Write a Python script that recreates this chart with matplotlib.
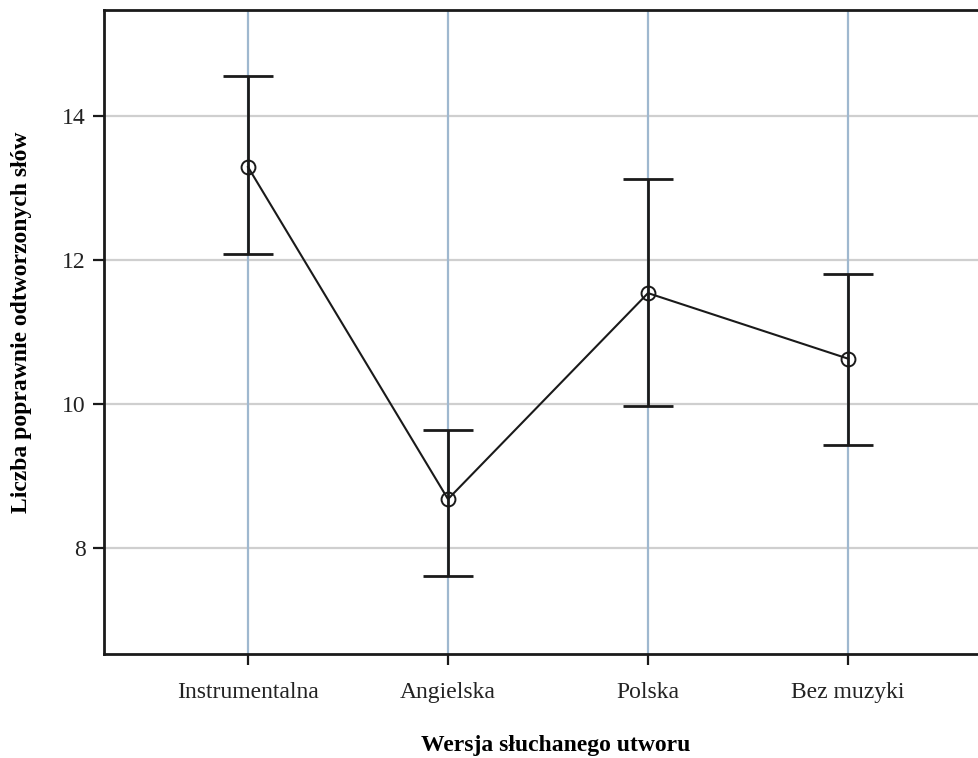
import matplotlib
matplotlib.use("Agg")
import matplotlib.pyplot as plt

categories = ["Instrumentalna", "Angielska", "Polska", "Bez muzyki"]
means = [13.29, 8.68, 11.54, 10.63]
upper = [14.56, 9.64, 13.13, 11.81]
lower = [12.08, 7.61, 9.97, 9.43]
yticks = [8, 10, 12, 14]

plt.rcParams['font.family'] = ['Liberation Serif', 'DejaVu Serif']

fig = plt.figure(figsize=(9.79, 7.58), dpi=100)
ax = fig.add_axes([104/979, 1-654/758, 1-104/979, 644/758])

x = list(range(len(categories)))
yerr = [[m - l for m, l in zip(means, lower)], [u - m for u, m in zip(upper, means)]]

for xi in x:
    ax.axvline(xi, color='#9fb8cf', lw=1.6, zorder=1)
for yt in yticks:
    ax.axhline(yt, color='#cfcfcf', lw=1.6, zorder=0.5)

ax.errorbar(x, means, yerr=yerr, fmt='none', ecolor='#1a1a1a', elinewidth=2.0,
            capsize=18, capthick=2.0, zorder=3)
ax.plot(x, means, color='#1a1a1a', lw=1.5, marker='o', markersize=10,
        markerfacecolor='none', markeredgecolor='#1a1a1a', markeredgewidth=1.4, zorder=4)

ax.set_xlim(-0.72, 3.655)
ax.set_ylim(6.53, 15.47)
ax.set_xticks(x)
ax.set_xticklabels(categories)
ax.set_yticks(yticks)
ax.tick_params(axis='both', labelsize=17, length=8, width=1.6, color='#1a1a1a', labelcolor='#222222')
ax.tick_params(axis='x', pad=12)
ax.tick_params(axis='y', pad=5)

for s in ['left', 'bottom', 'top']:
    ax.spines[s].set_linewidth(2)
    ax.spines[s].set_color('#1a1a1a')
ax.spines['right'].set_visible(False)

ax.set_xlabel("Wersja słuchanego utworu", fontsize=17, fontweight='bold')
ax.set_ylabel("Liczba poprawnie odtworzonych słów", fontsize=17, fontweight='bold')
ax.xaxis.set_label_coords((556-104)/875, -(745-654)/644, transform=ax.transAxes)
ax.yaxis.set_label_coords(-(104-22)/875, (654-322)/644, transform=ax.transAxes)
ax.xaxis.label.set_va('center')
ax.yaxis.label.set_va('center')

fig.savefig("out.png", dpi=100)
